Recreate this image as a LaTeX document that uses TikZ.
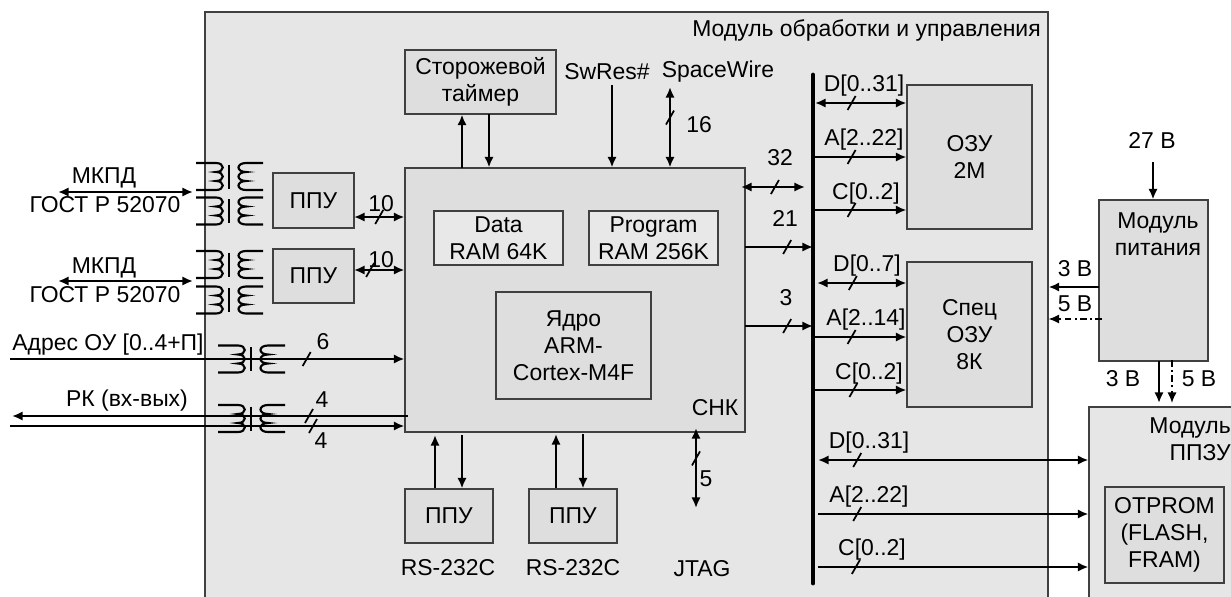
\documentclass[tikz,border=0pt]{standalone}
\usepackage{fontspec}
\setmainfont{Liberation Sans}
\usetikzlibrary{arrows.meta}
\definecolor{modfill}{HTML}{E6E6E6}
\definecolor{boxfill}{HTML}{DEDEDE}
\definecolor{ramfill}{HTML}{E8E8E8}
\begin{document}
\begin{tikzpicture}[x=.75pt,y=-.75pt,>={Latex[length=8pt,width=7pt]},
  txt/.style={inner sep=0pt,align=center,font=\fontsize{17.2}{20.25}\selectfont},
  box/.style={txt,draw=black!75,line width=.8pt,fill=boxfill},
  sz/.style 2 args={minimum width=#1*.75pt,minimum height=#2*.75pt},
  wire/.style={line width=1.6pt},
  dashdot/.style={wire,line width=1.2pt,dash pattern=on 5pt off 2.5pt on 1.5pt off 2.5pt},
  tick/.pic={\draw[-,line width=1.3pt] (-4,7) -- (4,-7);},
  trafo/.pic={
    \draw[-,line width=1.6pt] (0,-12) -- (0,12);
    \draw[-,line width=1.6pt] (-33,-13.5) -- (-13,-13.5)
      .. controls (-4,-13.5) and (-4,-4.5) .. (-13,-4.5)
      .. controls (-4,-4.5) and (-4,4.5) .. (-13,4.5)
      .. controls (-4,4.5) and (-4,13.5) .. (-13,13.5) -- (-33,13.5);
    \draw[-,line width=1.6pt] (34,-13.5) -- (17,-13.5)
      .. controls (7,-13.5) and (7,-4.5) .. (17,-4.5)
      .. controls (7,-4.5) and (7,4.5) .. (17,4.5)
      .. controls (7,4.5) and (7,13.5) .. (17,13.5) -- (34,13.5);}]
  \useasboundingbox (0,0) rectangle (1231,596);
  % modules
  \node[box,fill=modfill,sz={843}{600}] (modmain) at (626.5,312) {};
  \node[txt] (modname) at (866.5,30) {Модуль обработки и управления};
  \node[box,sz={151}{64}] (wdt) at (480.5,82) {Сторожевой\\таймер};
  \node[box,sz={340}{264}] (cnk) at (575,300) {};
  \node[box,fill=ramfill,sz={129}{54}] (dram) at (498.5,238) {Data\\RAM 64K};
  \node[box,fill=ramfill,sz={129}{54}] (pram) at (653.5,238) {Program\\RAM 256K};
  \node[box,sz={155}{107}] (core) at (573.5,345.5) {Ядро\\ARM-\\Cortex-M4F};
  \node[txt] (cnkname) at (715,408) {СНК};
  \node[box,sz={81}{55}] (ppua) at (313.5,200.5) {ППУ};
  \node[box,sz={81}{54}] (ppub) at (313.5,276) {ППУ};
  \node[box,sz={88}{54}] (ppuc) at (449,516) {ППУ};
  \node[box,sz={88}{54}] (ppud) at (573,516) {ППУ};
  \node[box,sz={125}{144}] (ram) at (969.5,157) {ОЗУ\\2М};
  \node[box,sz={125}{145}] (sram) at (969.5,334.5) {Спец\\ОЗУ\\8К};
  \node[box,sz={109}{161}] (pwr) at (1153.5,280.5) {};
  \node[txt] (pwrname) at (1158,234) {Модуль\\питания};
  \node[box,fill=modfill,sz={160}{200}] (rom) at (1169,507) {};
  \node[txt,anchor=north east,align=right] (romname) at (1231,417) {Модуль\\ППЗУ};
  \node[box,sz={119}{96}] (otp) at (1164.5,535) {OTPROM\\(FLASH,\\FRAM)};
  % transformers
  \pic at (229,176.5) {trafo};
  \pic at (229,211) {trafo};
  \pic at (229,264.5) {trafo};
  \pic at (229,300) {trafo};
  \pic at (251,359) {trafo};
  \pic at (251,418.5) {trafo};
  % left side
  \coordinate (mka) at (58,192); \coordinate (mkb) at (193,192);
  \coordinate (mkc) at (58,281); \coordinate (mkd) at (193,281);
  \draw[wire,<->] (mka) -- (mkb);
  \draw[wire,<->] (mkc) -- (mkd);
  \node[txt] (mkpda) at (104,178) {МКПД};
  \node[txt] (gosta) at (105,205) {ГОСТ Р 52070};
  \node[txt] (mkpdb) at (104,268) {МКПД};
  \node[txt] (gostb) at (105,295) {ГОСТ Р 52070};
  \coordinate (ppa) at (354,217); \coordinate (ppb) at (354,270);
  \draw[wire,<->] (ppa) -- pic[pos=.5]{tick} (ppa -| cnk.west);
  \draw[wire,<->] (ppb) -- pic[pos=.32]{tick} (ppb -| cnk.west);
  \node[txt] (nten) at (381,204) {10};
  \node[txt] (ntenb) at (381,260) {10};
  \coordinate (adr) at (10,359); \coordinate (rko) at (12,416); \coordinate (rki) at (10,426);
  \draw[wire,->] (adr) -- pic[pos=.752]{tick} (adr -| cnk.west);
  \draw[wire,<-] (rko) -- (408,416);
  \draw[wire,->] (rki) -- (rki -| cnk.west);
  \pic at (309,416) {tick};
  \pic at (313,426) {tick};
  \node[txt] (adrname) at (108,345) {Адрес ОУ [0..4+П]};
  \node[txt] (rkname) at (127,401) {РК (вх-вых)};
  \node[txt] (nsix) at (323,342) {6};
  \node[txt] (nfoura) at (322,400) {4};
  \node[txt] (nfourb) at (321,441) {4};
  % top side
  \coordinate (wa) at (462,168); \coordinate (wb) at (489,114);
  \draw[wire,->] (wa) -- (wa |- wdt.south);
  \draw[wire,->] (wb) -- (wb |- cnk.north);
  \coordinate (sw) at (612,85); \coordinate (sp) at (670,87);
  \draw[wire,->] (sw) -- (sw |- cnk.north);
  \draw[wire,<->] (sp) -- pic[pos=.38]{tick} (sp |- cnk.north);
  \node[txt] (swres) at (607,72) {SwRes\#};
  \node[txt] (spw) at (718,72) {SpaceWire};
  \node[txt] (nsixt) at (699,125) {16};
  % bottom side
  \coordinate (ua) at (435,435); \coordinate (ub) at (462,435);
  \coordinate (uc) at (556,434); \coordinate (ud) at (583,434);
  \coordinate (jt) at (696,508);
  \draw[wire,->] (ua |- ppuc.north) -- (ua);
  \draw[wire,->] (ub) -- (ub |- ppuc.north);
  \draw[wire,->] (uc |- ppud.north) -- (uc);
  \draw[wire,->] (ud) -- (ud |- ppud.north);
  \draw[wire,<->] (jt) -- pic[pos=.62]{tick} (696,428);
  \node[txt] (rsa) at (448,568) {RS-232C};
  \node[txt] (rsb) at (573,568) {RS-232C};
  \node[txt] (jtag) at (702,569) {JTAG};
  \node[txt] (nfive) at (706,479) {5};
  % bus
  \coordinate (bustop) at (813,75); \coordinate (busbot) at (813,583);
  \draw[line width=3.7pt,line cap=round] (bustop) -- (busbot);
  \coordinate (ca) at (741,187); \coordinate (cb) at (745,247); \coordinate (cc) at (745,326);
  \draw[wire,<->] (ca) -- pic[pos=.53]{tick} (805,187);
  \draw[wire,->] (cb) -- pic[pos=.62]{tick} (cb -| bustop);
  \draw[wire,->] (cc) -- pic[pos=.62]{tick} (cc -| bustop);
  \node[txt] (ntwo) at (780,158) {32};
  \node[txt] (ntwoa) at (785,218) {21};
  \node[txt] (nthree) at (786,298) {3};
  % ram
  \coordinate (rd) at (815,103); \coordinate (ra) at (815,157); \coordinate (rc) at (815,210);
  \draw[wire,<->] (rd) -- pic[pos=.4]{tick} (rd -| ram.west);
  \draw[wire,->] (ra) -- pic[pos=.4]{tick} (ra -| ram.west);
  \draw[wire,->] (rc) -- pic[pos=.4]{tick} (rc -| ram.west);
  \node[txt] (rdl) at (864,86) {D[0..31]};
  \node[txt] (ral) at (864,140) {A[2..22]};
  \node[txt] (rcl) at (866,194) {C[0..2]};
  % special ram
  \coordinate (sd) at (817,283); \coordinate (sa) at (815,337); \coordinate (sc) at (815,390);
  \draw[wire,<->] (sd) -- pic[pos=.4]{tick} (sd -| sram.west);
  \draw[wire,->] (sa) -- pic[pos=.4]{tick} (sa -| sram.west);
  \draw[wire,->] (sc) -- pic[pos=.42]{tick} (sc -| sram.west);
  \node[txt] (sdl) at (867,266) {D[0..7]};
  \node[txt] (sal) at (866,320) {A[2..14]};
  \node[txt] (scl) at (869,374) {C[0..2]};
  % rom
  \coordinate (od) at (818,460); \coordinate (oa) at (818,514); \coordinate (oc) at (818,567);
  \draw[wire,<->] (od) -- pic[pos=.145]{tick} (od -| rom.west);
  \draw[wire,->] (oa) -- pic[pos=.145]{tick} (oa -| rom.west);
  \draw[wire,->] (oc) -- pic[pos=.14]{tick} (oc -| rom.west);
  \node[txt] (odl) at (869,443) {D[0..31]};
  \node[txt] (oal) at (869,497) {A[2..22]};
  \node[txt] (ocl) at (872,550) {C[0..2]};
  % power
  \coordinate (pin) at (1153,162); \coordinate (pta) at (1099,287); \coordinate (pfa) at (1102,319);
  \coordinate (ptb) at (1159,361); \coordinate (pfb) at (1172,360);
  \draw[wire,->] (pin) -- (pin |- pwr.north);
  \draw[wire,->] (pta) -- (pta -| modmain.east);
  \draw[dashdot,->] (pfa) -- (pfa -| modmain.east);
  \draw[wire,->] (ptb) -- (1159,403);
  \draw[dashdot,->] (pfb) -- (1172,403);
  \node[txt] (vin) at (1152,140) {27 В};
  \node[txt] (vta) at (1075,269) {3 В};
  \node[txt] (vfa) at (1075,304) {5 В};
  \node[txt] (vtb) at (1123,379) {3 В};
  \node[txt] (vfb) at (1199,379) {5 В};
\end{tikzpicture}
\end{document}
